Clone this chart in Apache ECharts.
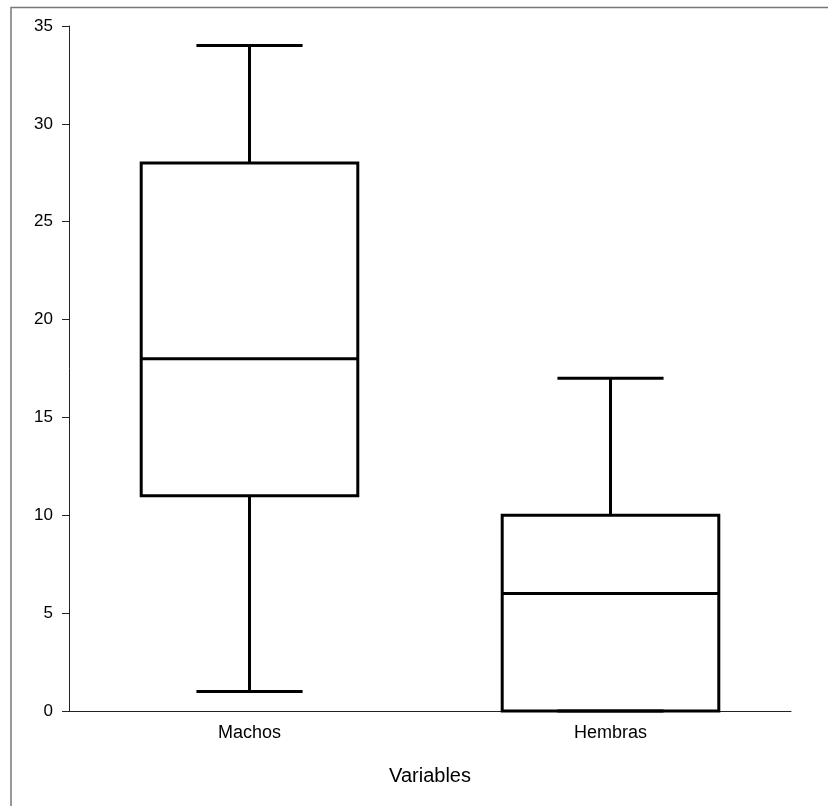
<!DOCTYPE html>
<html>
<head>
<meta charset="utf-8">
<script src="https://cdn.jsdelivr.net/npm/echarts@6/dist/echarts.min.js"></script>
<style>html,body{margin:0;padding:0;background:#fff}#c{width:828px;height:806px}</style>
</head>
<body>
<div id="c"></div>
<script>
const categories = ['Machos', 'Hembras'];
const minVals = [1, 0];
const q1Vals = [11, 0];
const medianVals = [18, 6];
const q3Vals = [28, 10];
const maxVals = [34, 17];
const yTicks = [0, 5, 10, 15, 20, 25, 30, 35];

const data = categories.map((c, i) => [i, minVals[i], q1Vals[i], medianVals[i], q3Vals[i], maxVals[i]]);

const chart = echarts.init(document.getElementById('c'), null, {renderer: 'canvas'});
chart.setOption({
  animation: false,
  backgroundColor: '#fff',
  graphic: [{
    type: 'rect', silent: true, z: -1,
    shape: {x: 11, y: 7.5, width: 840, height: 820},
    style: {fill: 'none', stroke: '#777', lineWidth: 1.5}
  }],
  grid: {left: 69, right: 37, top: 26, bottom: 95},
  xAxis: {
    type: 'category',
    data: categories,
    name: 'Variables',
    nameLocation: 'middle',
    nameGap: 55,
    nameTextStyle: {fontFamily: 'Liberation Sans', fontSize: 20, color: '#000'},
    axisLine: {lineStyle: {color: '#222', width: 1}},
    axisTick: {alignWithLabel: true, length: 7, lineStyle: {color: '#222'}},
    axisLabel: {fontFamily: 'Liberation Sans', fontSize: 18, color: '#000', margin: 13},
    splitLine: {show: false}
  },
  yAxis: {
    type: 'value',
    min: yTicks[0], max: yTicks[yTicks.length - 1], interval: 5,
    axisLine: {show: true, lineStyle: {color: '#222', width: 1}},
    axisTick: {show: true, length: 7, lineStyle: {color: '#222'}},
    axisLabel: {fontFamily: 'Liberation Sans', fontSize: 17, color: '#000', margin: 16},
    splitLine: {show: false}
  },
  series: [{
    type: 'custom',
    data: data,
    encode: {x: 0, y: [1, 2, 3, 4, 5]},
    renderItem: function (params, api) {
      const idx = api.value(0);
      const band = api.size([1, 0])[0];
      const hw = band * 0.3;
      const cw = band * 0.147;
      const pMin = api.coord([idx, api.value(1)]);
      const pQ1 = api.coord([idx, api.value(2)]);
      const pMed = api.coord([idx, api.value(3)]);
      const pQ3 = api.coord([idx, api.value(4)]);
      const pMax = api.coord([idx, api.value(5)]);
      const x = pMed[0];
      const st = {stroke: '#000', lineWidth: 3, fill: 'none'};
      return {
        type: 'group',
        children: [
          {type: 'rect', shape: {x: x - hw, y: pQ3[1], width: 2 * hw, height: pQ1[1] - pQ3[1]}, style: st},
          {type: 'line', shape: {x1: x - hw, y1: pMed[1], x2: x + hw, y2: pMed[1]}, style: st},
          {type: 'line', shape: {x1: x, y1: pQ3[1], x2: x, y2: pMax[1]}, style: st},
          {type: 'line', shape: {x1: x, y1: pQ1[1], x2: x, y2: pMin[1]}, style: st},
          {type: 'line', shape: {x1: x - cw, y1: pMax[1], x2: x + cw, y2: pMax[1]}, style: st},
          {type: 'line', shape: {x1: x - cw, y1: pMin[1], x2: x + cw, y2: pMin[1]}, style: st}
        ]
      };
    }
  }]
});
</script>
</body>
</html>
